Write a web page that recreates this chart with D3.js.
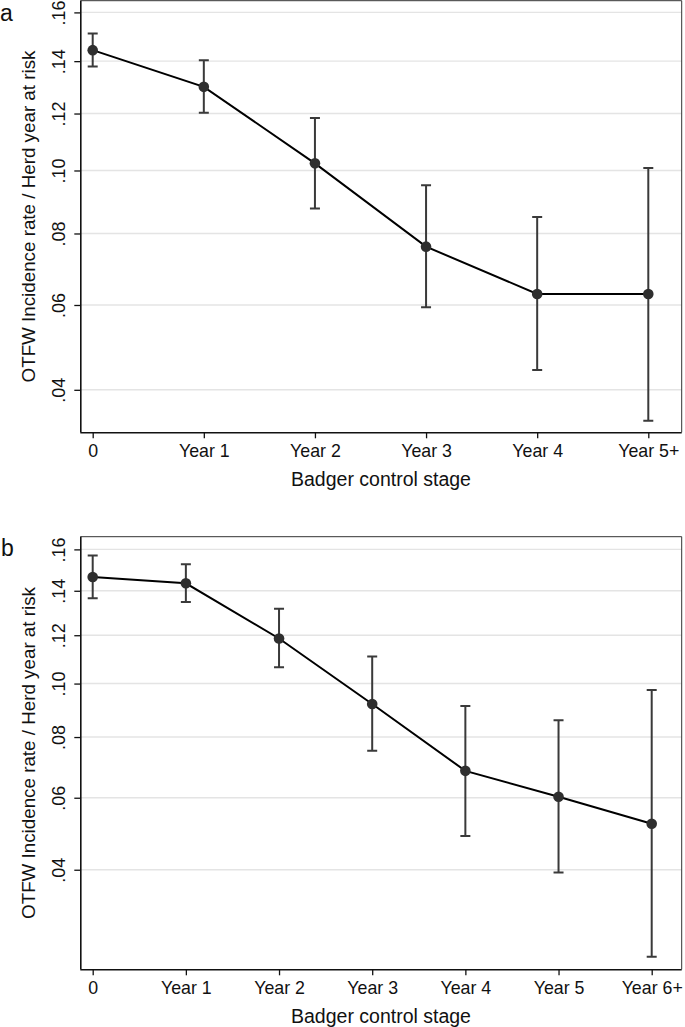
<!DOCTYPE html>
<html>
<head>
<meta charset="utf-8">
<script src="https://cdn.jsdelivr.net/npm/d3@7"></script>
<style>
  body { margin: 0; background: #fff; }
  svg { display: block; font-family: "Liberation Sans", Arial, Helvetica, sans-serif; }
</style>
</head>
<body>
<div id="chart"></div>
<script>
// Data
const stagesA = ["0", "Year 1", "Year 2", "Year 3", "Year 4", "Year 5+"];
const rateA  = [0.1444, 0.1300, 0.1024, 0.0761, 0.0629, 0.0629];
const lowerA = [0.1379, 0.1203, 0.0877, 0.0594, 0.0443, 0.0337];
const upperA = [0.1512, 0.1404, 0.1184, 0.0951, 0.0850, 0.1008];

const stagesB = ["0", "Year 1", "Year 2", "Year 3", "Year 4", "Year 5", "Year 6+"];
const rateB  = [0.1465, 0.1435, 0.1186, 0.0921, 0.0685, 0.0603, 0.0523];
const lowerB = [0.1365, 0.1348, 0.1065, 0.0752, 0.0489, 0.0393, 0.0212];
const upperB = [0.1570, 0.1527, 0.1317, 0.1110, 0.0913, 0.0860, 0.0975];

const yTicks = [0.04, 0.06, 0.08, 0.10, 0.12, 0.14, 0.16];
const yTitle = "OTFW Incidence rate / Herd year at risk";
const xTitle = "Badger control stage";

const W = 685, H = 1027;
const svg = d3.select("#chart").append("svg")
  .attr("width", W)
  .attr("height", H);

function drawPanel(p) {
  const g = svg.append("g");

  // y is on a square-root scale
  const y = d3.scaleSqrt()
    .domain(p.yDomain)
    .range([p.bottom, p.top]);
  const x = d3.scalePoint()
    .domain(p.stages)
    .range([92.7, p.lastX]);

  // gridlines
  g.append("g")
    .selectAll("line")
    .data(yTicks)
    .enter()
    .append("line")
      .attr("x1", p.left).attr("x2", p.right)
      .attr("y1", d => y(d)).attr("y2", d => y(d))
      .attr("stroke", "#e4e4e4")
      .attr("stroke-width", 1.4);

  // frame (top + right)
  g.append("path")
    .attr("d", `M${p.left},${p.top}H${p.right}V${p.bottom}`)
    .attr("fill", "none")
    .attr("stroke", "#333")
    .attr("stroke-width", 1);

  // Y axis
  const yAxis = g.append("g")
    .attr("transform", "translate(" + p.left + ",0)")
    .call(d3.axisLeft(y)
      .tickValues(yTicks)
      .tickSize(6)
      .tickPadding(0)
      .tickFormat(d => d3.format(".2f")(d).replace(/^0/, "")));
  yAxis.select(".domain")
    .attr("d", `M0.5,${p.top}V${p.bottom}`)
    .attr("stroke", "#111")
    .attr("stroke-width", 1.6);
  yAxis.selectAll(".tick line").attr("stroke", "#111").attr("stroke-width", 1.3);
  yAxis.selectAll(".tick text")
    .attr("x", null).attr("dy", null)
    .attr("transform", "translate(-15,0) rotate(-90)")
    .attr("text-anchor", "middle")
    .attr("font-size", 18)
    .attr("fill", "#111");

  // X axis
  const xAxis = g.append("g")
    .attr("transform", "translate(0," + p.bottom + ")")
    .call(d3.axisBottom(x).tickSize(6).tickPadding(6));
  xAxis.select(".domain")
    .attr("d", `M${p.left},0.5H${p.right}`)
    .attr("stroke", "#111")
    .attr("stroke-width", 1.6);
  xAxis.selectAll(".tick line").attr("stroke", "#111").attr("stroke-width", 1.3);
  xAxis.selectAll(".tick text")
    .attr("font-size", 17.8)
    .attr("fill", "#111");

  // titles
  g.append("text")
    .attr("transform", `translate(35,${(p.top + p.bottom) / 2}) rotate(-90)`)
    .attr("text-anchor", "middle")
    .attr("font-size", 18.8)
    .attr("fill", "#111")
    .text(yTitle);
  g.append("text")
    .attr("x", (p.left + p.right) / 2)
    .attr("y", p.bottom + 54)
    .attr("text-anchor", "middle")
    .attr("font-size", 19.5)
    .attr("fill", "#111")
    .text(xTitle);
  g.append("text")
    .attr("x", p.labelX)
    .attr("y", p.labelY)
    .attr("font-size", 23)
    .attr("fill", "#111")
    .text(p.label);

  // error bars
  const idx = d3.range(p.stages.length);
  const bars = g.append("g")
    .attr("stroke", "#3a3a3a")
    .attr("stroke-width", 2)
    .attr("fill", "none");
  bars.selectAll(".whisker")
    .data(idx)
    .enter()
    .append("path")
      .attr("d", i => {
        const cx = x(p.stages[i]), y1 = y(p.upper[i]), y0 = y(p.lower[i]);
        return `M${cx - 5},${y1}H${cx + 5}M${cx},${y1}V${y0}M${cx - 5},${y0}H${cx + 5}`;
      });

  // connecting line
  g.append("path")
    .datum(idx)
    .attr("fill", "none")
    .attr("stroke", "#000")
    .attr("stroke-width", 2)
    .attr("d", d3.line().x(i => x(p.stages[i])).y(i => y(p.rate[i])));

  // markers
  g.append("g")
    .selectAll("circle")
    .data(idx)
    .enter()
    .append("circle")
      .attr("cx", i => x(p.stages[i]))
      .attr("cy", i => y(p.rate[i]))
      .attr("r", 5.3)
      .attr("fill", "#2f2f2f");
}

drawPanel({
  label: "a", labelX: 0, labelY: 21,
  stages: stagesA, rate: rateA, lower: lowerA, upper: upperA,
  yDomain: [0.0315, 0.165],
  left: 80.3, right: 681.7, top: 0.7, bottom: 432.3, lastX: 648.3
});

drawPanel({
  label: "b", labelX: 1, labelY: 556,
  stages: stagesB, rate: rateB, lower: lowerB, upper: upperB,
  yDomain: [0.019, 0.1664],
  left: 80.3, right: 681.7, top: 536.7, bottom: 969.3, lastX: 651.7
});
</script>
</body>
</html>
